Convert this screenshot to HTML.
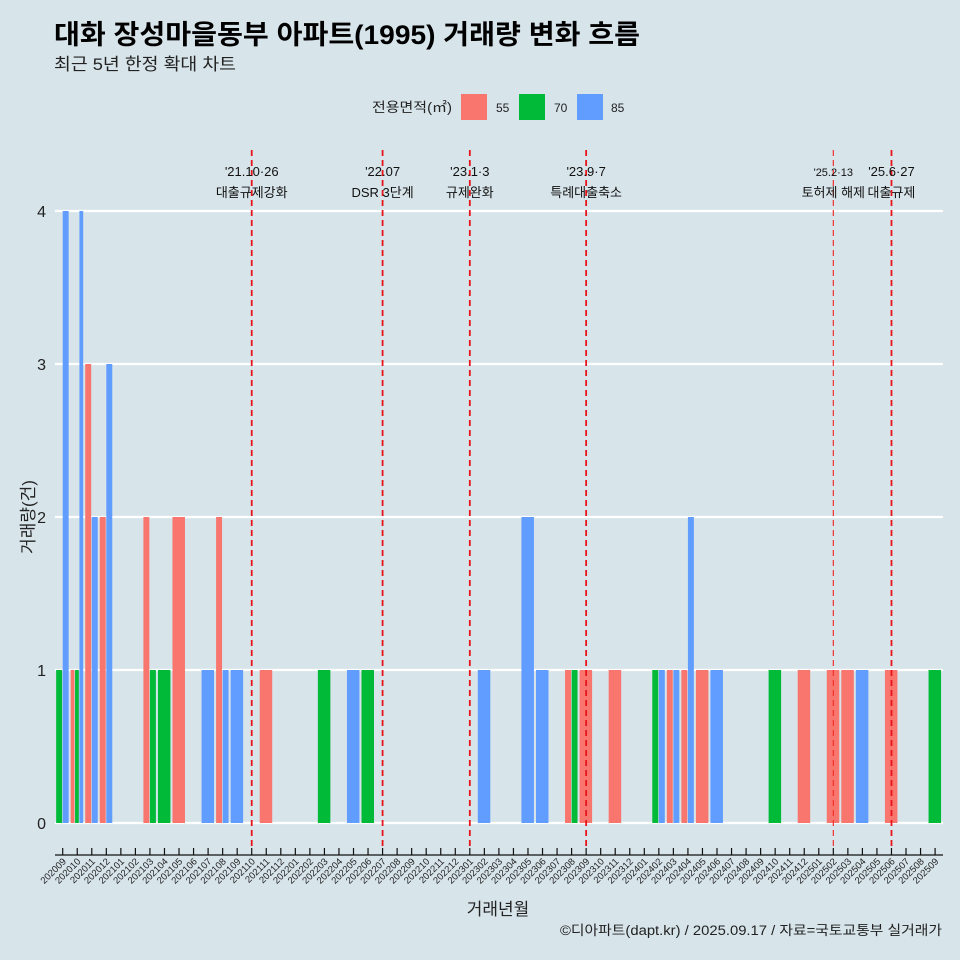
<!DOCTYPE html>
<html><head><meta charset="utf-8">
<style>
body{margin:0;background:#d7e4ea;}
svg{display:block;font-family:"Liberation Sans","Noto Sans CJK KR",sans-serif;}
</style></head><body>
<svg id="chart" width="960" height="960" viewBox="0 0 960 960" xmlns="http://www.w3.org/2000/svg">
<rect width="960" height="960" fill="#d7e4ea"/>
<text x="54" y="44" font-size="27" font-weight="bold" fill="#000" textLength="586" lengthAdjust="spacingAndGlyphs">대화 장성마을동부 아파트(1995) 거래량 변화 흐름</text>
<text x="54" y="70" font-size="17" fill="#222" textLength="182" lengthAdjust="spacingAndGlyphs">최근 5년 한정 확대 차트</text>
<g>
<text x="372" y="112" font-size="13.5" fill="#222" textLength="80" lengthAdjust="spacingAndGlyphs">전용면적(㎡)</text>
<rect x="461" y="94" width="26" height="26" fill="#f8766d"/>
<text x="496" y="112" font-size="12" fill="#222">55</text>
<rect x="519" y="94" width="26" height="26" fill="#00ba38"/>
<text x="554" y="112" font-size="12" fill="#222">70</text>
<rect x="577" y="94" width="26" height="26" fill="#619cff"/>
<text x="611" y="112" font-size="12" fill="#222">85</text>
</g>
<g id="grid"></g>
<g id="bars"></g>
<g id="vlines"></g>
<g id="axes"></g>
<text x="0" y="0" transform="translate(34,517) rotate(-90)" text-anchor="middle" font-size="17" fill="#222">거래량(건)</text>
<text x="498" y="915" text-anchor="middle" font-size="17" fill="#222">거래년월</text>
<text x="942" y="935" text-anchor="end" font-size="13.5" fill="#222" textLength="382" lengthAdjust="spacingAndGlyphs">©디아파트(dapt.kr) / 2025.09.17 / 자료=국토교통부 실거래가</text>
</svg>
<script>
const months = [];
for (let y = 2020; y <= 2025; y++) for (let m = 1; m <= 12; m++) {
  const k = y * 100 + m; if (k >= 202009 && k <= 202509) months.push(String(k));
}
const series = ['55', '70', '85'];
const colors = {'55': '#f8766d', '70': '#00ba38', '85': '#619cff'};
const v55 = {'202010':1,'202011':3,'202012':2,'202103':2,'202105':2,'202108':2,'202111':1,'202308':1,'202309':1,'202311':1,'202403':1,'202404':1,'202405':1,'202412':1,'202502':1,'202503':1,'202506':1};
const v70 = {'202009':1,'202010':1,'202103':1,'202104':1,'202203':1,'202206':1,'202308':1,'202402':1,'202410':1,'202509':1};
const v85 = {'202009':4,'202010':4,'202011':2,'202012':3,'202107':1,'202108':1,'202109':1,'202205':1,'202302':1,'202305':2,'202306':1,'202402':1,'202403':1,'202404':2,'202406':1,'202504':1};
const yTicks = [0, 1, 2, 3, 4];
const events = [
  {m:'202110', l1:"'21.10·26", l2:'대출규제강화', thin:false},
  {m:'202207', l1:"'22.07", l2:'DSR 3단계', thin:false},
  {m:'202301', l1:"'23.1·3", l2:'규제완화', thin:false},
  {m:'202309', l1:"'23.9·7", l2:'특례대출축소', thin:false},
  {m:'202502', l1:"'25.2·13", l2:'토허제 해제', thin:true},
  {m:'202506', l1:"'25.6·27", l2:'대출규제', thin:false}
];
const NS = 'http://www.w3.org/2000/svg';
const x0 = 62.7, step = 14.54, band = 13.1;
const xs = m => x0 + months.indexOf(m) * step;
const ys = v => 823 - v * 153;
function mk(tag, attrs, parent) {
  const e = document.createElementNS(NS, tag);
  for (const k in attrs) e.setAttribute(k, attrs[k]);
  document.getElementById(parent).appendChild(e); return e;
}
yTicks.forEach(t => {
  const l = mk('line', {x1:55, x2:943, y1:ys(t), y2:ys(t), stroke:'#fff', 'stroke-width':2.2}, 'grid');
  
  
  const tx = mk('text', {x:46, y:ys(t)+6, 'text-anchor':'end', 'font-size':16, fill:'#222'}, 'axes');
  tx.textContent = t;
  
  
});
const vals = {'55': v55, '70': v70, '85': v85};
months.forEach(m => {
  const present = series.filter(s => vals[s][m]);
  const n = present.length; if (!n) return;
  const w = band / n;
  present.forEach((s, i) => {
    const v = vals[s][m];
    const r = mk('rect', {x: xs(m) - band/2 + i*w, y: ys(v), width: Math.max(w - 0.6, 0.5), height: ys(0) - ys(v), fill: colors[s]}, 'bars');
    
    
  });
});
events.forEach(ev => {
  const x = xs(ev.m);
  const l = mk('line', {x1:x, x2:x, y1:150, y2:850, stroke:ev.thin ? '#f03030' : '#e8141c', 'stroke-width':ev.thin ? 1.2 : 1.8, 'stroke-dasharray':'6,4'}, 'vlines');
  
  
  const a = mk('text', {x: x, y: 176, 'text-anchor':'middle', 'font-size': ev.thin ? 11 : 13, fill:'#111'}, 'vlines');
  a.textContent = ev.l1;
  
  
  const b = mk('text', {x: x, y: 197, 'text-anchor':'middle', 'font-size':13, fill:'#111'}, 'vlines');
  b.textContent = ev.l2;
  
  
});
const ax = mk('line', {x1:55, x2:943, y1:855, y2:855, stroke:'#111', 'stroke-width':1.2}, 'axes');


months.forEach(m => {
  const x = xs(m);
  const t = mk('line', {x1:x, x2:x, y1:848, y2:855, stroke:'#111', 'stroke-width':1.2}, 'axes');
  
  
  const lb = mk('text', {x:0, y:0, transform:'translate(' + (x+4) + ',862) rotate(-45)', 'text-anchor':'end', 'font-size':9.5, fill:'#222'}, 'axes');
  lb.textContent = m;
  
  
});
</script>
</body></html>
